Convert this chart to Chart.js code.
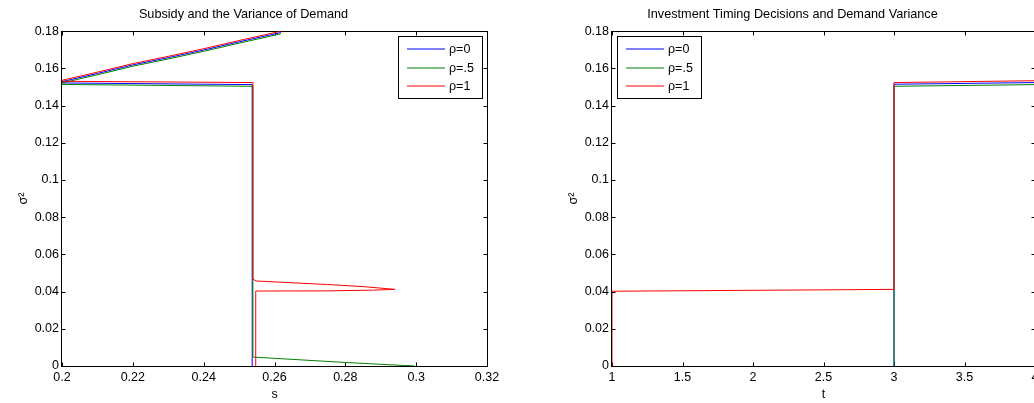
<!DOCTYPE html>
<html>
<head>
<meta charset="utf-8">
<script src="https://cdn.jsdelivr.net/npm/chart.js@4/dist/chart.umd.min.js"></script>
<style>
  html, body { margin: 0; padding: 0; background: #fff; overflow: hidden; }
  canvas { position: absolute; top: 0; }
  #subsidyChart { left: 0; }
  #timingChart { left: 550px; }
</style>
</head>
<body>
<canvas id="subsidyChart" width="520" height="403"></canvas>
<canvas id="timingChart" width="520" height="403"></canvas>
<script>
// data
const seriesLabels = ['ρ=0', 'ρ=.5', 'ρ=1'];
const seriesColors = ['#0000ff', '#008000', '#ff0000'];

// left panel: s (x) against sigma^2 (y)
const sBlue  = [0.2537, 0.2537, 0.2000, 0.2000, 0.2100, 0.2200, 0.2300, 0.2400, 0.2500, 0.2618];
const vBlue  = [0, 0.1513, 0.1522, 0.1529, 0.1573, 0.1619, 0.1658, 0.1699, 0.1743, 0.1793];
const sGreen = [0.2995, 0.2800, 0.2539, 0.2539, 0.2000, 0.2000, 0.2100, 0.2200, 0.2300, 0.2400, 0.2500, 0.2618];
const vGreen = [0, 0.0019, 0.0048, 0.1504, 0.1514, 0.1522, 0.1566, 0.1612, 0.1651, 0.1692, 0.1736, 0.1786];
const sRed   = [0.2547, 0.2547, 0.2750, 0.2880, 0.2940, 0.2850, 0.2750, 0.2550, 0.2539, 0.2539, 0.2000, 0.2000, 0.2100, 0.2200, 0.2300, 0.2400, 0.2500, 0.2618];
const vRed   = [0, 0.0403, 0.0404, 0.0408, 0.0412, 0.0427, 0.0438, 0.0457, 0.0466, 0.1524, 0.1531, 0.1536, 0.1580, 0.1626, 0.1665, 0.1706, 0.1750, 0.1800];

// right panel: t (x) against sigma^2 (y)
const tBlue  = [3, 3, 4];
const wBlue  = [0, 0.1515, 0.1524];
const tGreen = [3, 3, 4];
const wGreen = [0, 0.1504, 0.1513];
const tRed   = [1, 1, 3, 3, 4];
const wRed   = [0, 0.0402, 0.0412, 0.1524, 0.1534];

// ticks
const yTicks = [0, 0.02, 0.04, 0.06, 0.08, 0.1, 0.12, 0.14, 0.16, 0.18];
const yTickLabels = ['0', '0.02', '0.04', '0.06', '0.08', '0.1', '0.12', '0.14', '0.16', '0.18'];
const sTicks = [0.2, 0.22, 0.24, 0.26, 0.28, 0.3, 0.32];
const sTickLabels = ['0.2', '0.22', '0.24', '0.26', '0.28', '0.3', '0.32'];
const tTicks = [1, 1.5, 2, 2.5, 3, 3.5, 4];
const tTickLabels = ['1', '1.5', '2', '2.5', '3', '3.5', '4'];

const FONT = '"Liberation Sans", Arial, sans-serif';
const FS = 12.5;

function toPoints(xs, ys) {
    return xs.map((x, i) => ({ x: x, y: ys[i] }));
}

function makeDatasets(xsList, ysList) {
    // red on top, then green, then blue
    const drawOrder = [2, 1, 0];
    return xsList.map((xs, i) => ({
        label: seriesLabels[i],
        data: toPoints(xs, ysList[i]),
        showLine: true,
        borderColor: seriesColors[i],
        backgroundColor: seriesColors[i],
        borderWidth: 1,
        pointRadius: 0,
        tension: 0,
        order: drawOrder[i]
    }));
}

// box round the plot with inward tick marks, like matlab
const boxPlugin = {
    id: 'box',
    beforeDatasetsDraw(chart) {
        const ctx = chart.ctx;
        const a = chart.chartArea;
        const L = Math.round(a.left) - 0.5, R = Math.round(a.right) + 0.5;
        const T = Math.round(a.top) + 0.5, B = Math.round(a.bottom) + 0.5;
        const len = 4;
        ctx.save();
        ctx.strokeStyle = '#000';
        ctx.lineWidth = 1;
        ctx.beginPath();
        chart.scales.x.ticks.forEach(t => {
            const px = Math.round(chart.scales.x.getPixelForValue(t.value)) + 0.5;
            ctx.moveTo(px, B); ctx.lineTo(px, B - len);
            ctx.moveTo(px, T); ctx.lineTo(px, T + len);
        });
        chart.scales.y.ticks.forEach(t => {
            const py = Math.round(chart.scales.y.getPixelForValue(t.value)) + 0.5;
            ctx.moveTo(L, py); ctx.lineTo(L + len, py);
            ctx.moveTo(R, py); ctx.lineTo(R - len, py);
        });
        ctx.stroke();
        ctx.strokeRect(L, T, R - L, B - T);
        ctx.restore();
    }
};

// legend box drawn inside the axes
const boxLegendPlugin = {
    id: 'boxLegend',
    afterDraw(chart, args, opts) {
        const ctx = chart.ctx;
        const x = opts.x, y = opts.y, w = 84, h = 62;
        ctx.save();
        ctx.fillStyle = '#fff';
        ctx.fillRect(x, y, w, h);
        ctx.strokeStyle = '#000';
        ctx.lineWidth = 1;
        ctx.strokeRect(x + 0.5, y + 0.5, w, h);
        ctx.font = FS + 'px ' + FONT;
        ctx.textBaseline = 'middle';
        chart.data.datasets.forEach((ds, i) => {
            const ly = Math.round(y + 13 + i * 18.5);
            ctx.strokeStyle = ds.borderColor;
            ctx.beginPath();
            ctx.moveTo(x + 9, ly);
            ctx.lineTo(x + 47, ly);
            ctx.stroke();
            ctx.fillStyle = '#000';
            ctx.fillText(ds.label, x + 51, ly + 1);
        });
        ctx.restore();
    }
};

function makeChart(id, datasets, xMin, xMax, xTicks, xLabels, title, xTitle, legendPos, padRight) {
    const ctx = document.getElementById(id).getContext('2d');
    return new Chart(ctx, {
        type: 'scatter',
        data: { datasets: datasets },
        options: {
            responsive: false,
            animation: false,
            layout: { padding: { left: 0, right: padRight, top: 0, bottom: 0 } },
            scales: {
                x: {
                    type: 'linear',
                    min: xMin,
                    max: xMax,
                    grid: { display: false, drawTicks: false },
                    border: { display: false },
                    afterBuildTicks: (scale) => { scale.ticks = xTicks.map(v => ({ value: v })); },
                    afterFit: (scale) => { scale.height = 37; },
                    ticks: {
                        autoSkip: false,
                        maxRotation: 0,
                        padding: 4,
                        color: '#000',
                        font: { family: FONT, size: FS },
                        callback: (value, index) => xLabels[index]
                    },
                    title: {
                        display: true,
                        text: xTitle,
                        color: '#000',
                        font: { family: FONT, size: FS },
                        padding: { top: 0, bottom: 1 }
                    }
                },
                y: {
                    type: 'linear',
                    min: 0,
                    max: 0.18,
                    grid: { display: false, drawTicks: false },
                    border: { display: false },
                    afterBuildTicks: (scale) => { scale.ticks = yTicks.map(v => ({ value: v })); },
                    afterFit: (scale) => { scale.width = 62; },
                    ticks: {
                        autoSkip: false,
                        padding: 3,
                        color: '#000',
                        font: { family: FONT, size: FS },
                        callback: (value, index) => yTickLabels[index]
                    },
                    title: {
                        display: true,
                        text: 'σ²',
                        color: '#000',
                        font: { family: FONT, size: FS },
                        padding: { top: 16, bottom: 0 }
                    }
                }
            },
            plugins: {
                legend: { display: false },
                tooltip: { enabled: false },
                title: {
                    display: true,
                    text: title,
                    color: '#000',
                    font: { family: FONT, size: 12.7, weight: 'normal' },
                    padding: { top: 7, bottom: 9 }
                },
                boxLegend: legendPos
            }
        },
        plugins: [boxPlugin, boxLegendPlugin]
    });
}

document.addEventListener('DOMContentLoaded', function() {
    makeChart('subsidyChart',
        makeDatasets([sBlue, sGreen, sRed], [vBlue, vGreen, vRed]),
        0.2, 0.32, sTicks, sTickLabels,
        'Subsidy and the Variance of Demand', 's', { x: 398, y: 36 }, 33);

    makeChart('timingChart',
        makeDatasets([tBlue, tGreen, tRed], [wBlue, wGreen, wRed]),
        1, 4, tTicks, tTickLabels,
        'Investment Timing Decisions and Demand Variance', 't', { x: 67, y: 36 }, 35);
});
</script>
</body>
</html>
